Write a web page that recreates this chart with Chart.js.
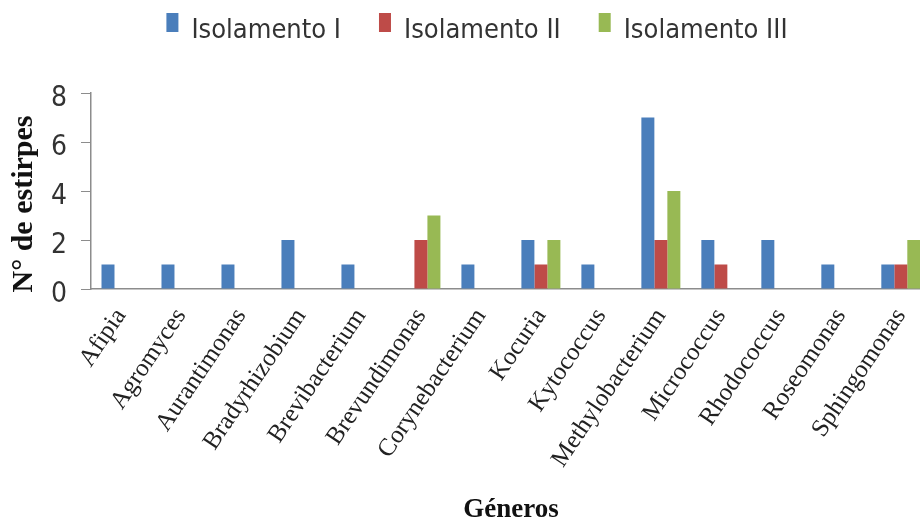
<!DOCTYPE html>
<html>
<head>
<meta charset="utf-8">
<script src="https://cdn.jsdelivr.net/npm/chart.js@4.4.1/dist/chart.umd.min.js"></script>
<style>
  html, body { margin: 0; padding: 0; background: #fff; overflow: hidden; }
  #wrap { width: 940px; height: 527px; }
</style>
</head>
<body>
<div id="wrap"><canvas id="chart"></canvas></div>
<script>
const generos = ['Afipia', 'Agromyces', 'Aurantimonas', 'Bradyrhizobium', 'Brevibacterium',
  'Brevundimonas', 'Corynebacterium', 'Kocuria', 'Kytococcus', 'Methylobacterium',
  'Micrococcus', 'Rhodococcus', 'Roseomonas', 'Sphingomonas'];
const isolamento1 = [1, 1, 1, 2, 1, 0, 1, 2, 1, 7, 2, 2, 1, 1];
const isolamento2 = [0, 0, 0, 0, 0, 2, 0, 1, 0, 2, 1, 0, 0, 1];
const isolamento3 = [0, 0, 0, 0, 0, 3, 0, 2, 0, 4, 0, 0, 0, 2];
const seriesNames = ['Isolamento I', 'Isolamento II', 'Isolamento III'];
const yTicks = [0, 2, 4, 6, 8];
const yTitle = 'N° de estirpes';

const narrow = "'Liberation Sans Narrow', 'DejaVu Sans Condensed', sans-serif";
const serif = "'Liberation Serif', 'DejaVu Serif', serif";

// legend row and the y title are drawn by hand to place them freely
const extras = {
  id: 'extras',
  afterDraw(chart) {
    const ctx = chart.ctx;
    const boxW = 12, boxH = 19, gap = 13, itemGap = 38, y = 13;
    ctx.save();
    ctx.font = '27px ' + narrow;
    ctx.textBaseline = 'alphabetic';
    const items = chart.data.datasets.map(ds => ({ ds, w: ctx.measureText(ds.label).width }));
    const total = items.reduce((s, it) => s + boxW + gap + it.w, 0) + itemGap * (items.length - 1);
    let x = 477 - total / 2;
    items.forEach(it => {
      ctx.fillStyle = it.ds.backgroundColor;
      ctx.fillRect(x, y, boxW, boxH);
      x += boxW + gap;
      ctx.fillStyle = '#333';
      ctx.fillText(it.ds.label, x, 38);
      x += it.w + itemGap;
    });

    ctx.translate(24, 204);
    ctx.rotate(-Math.PI / 2);
    ctx.font = 'bold 30px ' + serif;
    ctx.fillStyle = '#111';
    ctx.textAlign = 'center';
    ctx.textBaseline = 'middle';
    ctx.fillText(yTitle, 0, 0);
    ctx.restore();
  }
};

new Chart(document.getElementById('chart'), {
  type: 'bar',
  data: {
    labels: generos,
    datasets: [
      { label: seriesNames[0], data: isolamento1, backgroundColor: '#4A7EBB' },
      { label: seriesNames[1], data: isolamento2, backgroundColor: '#BE4B48' },
      { label: seriesNames[2], data: isolamento3, backgroundColor: '#98B954' }
    ]
  },
  options: {
    responsive: true,
    maintainAspectRatio: false,
    animation: false,
    layout: { padding: { top: 93, right: 9, left: 0, bottom: 0 } },
    datasets: { bar: { categoryPercentage: 0.65, barPercentage: 1 } },
    plugins: { legend: { display: false }, tooltip: { enabled: false } },
    scales: {
      x: {
        grid: { display: false, drawTicks: false },
        border: { display: true, color: '#8c8c8c', width: 1.5 },
        ticks: {
          autoSkip: false,
          minRotation: 56,
          maxRotation: 56,
          padding: 14,
          color: '#222',
          font: { family: serif, size: 25 }
        },
        title: {
          display: true,
          text: 'Géneros',
          color: '#111',
          padding: { top: 0, bottom: 1 },
          font: { family: serif, size: 27, weight: 'bold' }
        },
        afterFit(scale) { scale.height = 238; }
      },
      y: {
        min: 0,
        max: 8,
        afterBuildTicks(scale) { scale.ticks = yTicks.map(v => ({ value: v })); },
        grid: { drawOnChartArea: false, drawTicks: true, tickLength: 10, color: '#8c8c8c' },
        border: { display: true, color: '#8c8c8c', width: 1.5 },
        ticks: {
          padding: 14,
          labelOffset: 6,
          color: '#333',
          font: { family: narrow, size: 28 }
        },
        afterFit(scale) { scale.width = 91; }
      }
    }
  },
  plugins: [extras]
});
</script>
</body>
</html>
